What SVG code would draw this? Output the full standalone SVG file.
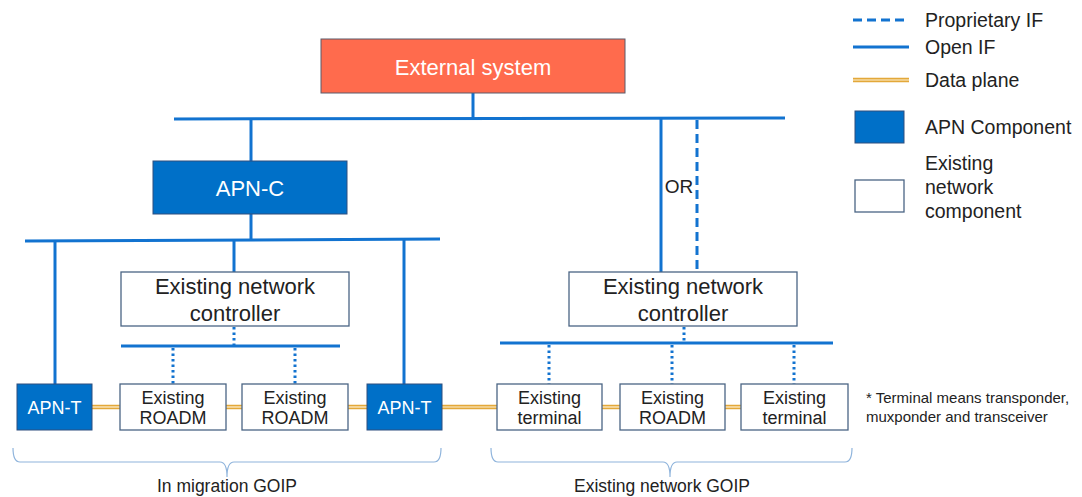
<svg xmlns="http://www.w3.org/2000/svg" width="1082" height="497" viewBox="0 0 1082 497">
<style>
.bg{fill:#ffffff}
.ext{fill:#FF6B4D;stroke:#5b5b6b;stroke-width:1}
.apn{fill:#0070C8;stroke:#2F4F7F;stroke-width:1}
.exi{fill:#ffffff;stroke:#4B6584;stroke-width:1.3}
.open{stroke:#1273D0;stroke-width:3;fill:none}
.prop{stroke:#1273D0;stroke-width:3;fill:none;stroke-dasharray:9 5}
.dot{stroke:#1273D0;stroke-width:3;fill:none;stroke-dasharray:2.5 3}
.dpo{stroke:#E3A83A;stroke-width:4.5;fill:none}
.dpi{stroke:#FFF3D8;stroke-width:1.2;fill:none}
.brace{stroke:#8FB4DC;stroke-width:1.2;fill:none}
text{font-family:"Liberation Sans",Arial,sans-serif}
.w{fill:#ffffff}
.k{fill:#222222}
</style>
<rect class="bg" x="0" y="0" width="1082" height="497"/>
<g id="connectors">
  <line class="open" x1="473" y1="93" x2="473" y2="119"/>
  <line class="open" x1="174" y1="119" x2="785" y2="118"/>
  <line class="open" x1="251" y1="119" x2="251" y2="161"/>
  <line class="open" x1="251" y1="214" x2="251" y2="240"/>
  <line class="open" x1="25" y1="241" x2="440" y2="239"/>
  <line class="open" x1="55" y1="241" x2="55" y2="384"/>
  <line class="open" x1="404" y1="240" x2="404" y2="384"/>
  <line class="open" x1="234" y1="240" x2="234" y2="272"/>
  <line class="dot" x1="234" y1="327" x2="234" y2="346"/>
  <line class="open" x1="121" y1="346" x2="340" y2="346"/>
  <line class="dot" x1="173" y1="348" x2="173" y2="384"/>
  <line class="dot" x1="295" y1="348" x2="295" y2="384"/>
  <line class="open" x1="661" y1="118" x2="661" y2="272"/>
  <line class="prop" x1="697" y1="120" x2="697" y2="272"/>
  <line class="dot" x1="684" y1="327" x2="684" y2="343"/>
  <line class="open" x1="500" y1="343" x2="833" y2="343"/>
  <line class="dot" x1="549" y1="345" x2="549" y2="384"/>
  <line class="dot" x1="672" y1="345" x2="672" y2="384"/>
  <line class="dot" x1="794" y1="345" x2="794" y2="384"/>
  <g>
    <line class="dpo" x1="92" y1="407" x2="120" y2="407"/><line class="dpi" x1="92" y1="407" x2="120" y2="407"/>
    <line class="dpo" x1="226" y1="407" x2="242" y2="407"/><line class="dpi" x1="226" y1="407" x2="242" y2="407"/>
    <line class="dpo" x1="348" y1="407" x2="367" y2="407"/><line class="dpi" x1="348" y1="407" x2="367" y2="407"/>
    <line class="dpo" x1="442" y1="407" x2="497" y2="407"/><line class="dpi" x1="442" y1="407" x2="497" y2="407"/>
    <line class="dpo" x1="602" y1="407" x2="620" y2="407"/><line class="dpi" x1="602" y1="407" x2="620" y2="407"/>
    <line class="dpo" x1="725" y1="407" x2="741" y2="407"/><line class="dpi" x1="725" y1="407" x2="741" y2="407"/>
  </g>
  <text class="k" x="679" y="193" font-size="19" text-anchor="middle">OR</text>
</g>
<g id="external-system">
  <rect class="ext" x="321" y="39" width="304" height="54"/>
  <text class="w" x="473" y="75" font-size="22" text-anchor="middle">External system</text>
</g>
<g id="apn-c">
  <rect class="apn" x="153" y="161" width="194" height="53"/>
  <text class="w" x="250" y="196" font-size="22" text-anchor="middle">APN-C</text>
</g>
<g id="controller-left">
  <rect class="exi" x="121" y="272" width="228" height="54"/>
  <text class="k" x="235" y="294" font-size="22" text-anchor="middle">Existing network</text>
  <text class="k" x="235" y="321" font-size="22" text-anchor="middle">controller</text>
</g>
<g id="controller-right">
  <rect class="exi" x="569" y="272" width="228" height="54"/>
  <text class="k" x="683" y="294" font-size="22" text-anchor="middle">Existing network</text>
  <text class="k" x="683" y="321" font-size="22" text-anchor="middle">controller</text>
</g>
<g id="apn-t-left">
  <rect class="apn" x="17" y="384" width="75" height="46"/>
  <text class="w" x="54.5" y="413.5" font-size="18" text-anchor="middle">APN-T</text>
</g>
<g id="roadm-1">
  <rect class="exi" x="120" y="384" width="106" height="46"/>
  <text class="k" x="173" y="403.5" font-size="18" text-anchor="middle">Existing</text>
  <text class="k" x="173" y="424" font-size="18" text-anchor="middle">ROADM</text>
</g>
<g id="roadm-2">
  <rect class="exi" x="242" y="384" width="106" height="46"/>
  <text class="k" x="295" y="403.5" font-size="18" text-anchor="middle">Existing</text>
  <text class="k" x="295" y="424" font-size="18" text-anchor="middle">ROADM</text>
</g>
<g id="apn-t-right">
  <rect class="apn" x="367" y="384" width="75" height="46"/>
  <text class="w" x="404.5" y="413.5" font-size="18" text-anchor="middle">APN-T</text>
</g>
<g id="terminal-1">
  <rect class="exi" x="497" y="384" width="105" height="46"/>
  <text class="k" x="549.5" y="403.5" font-size="18" text-anchor="middle">Existing</text>
  <text class="k" x="549.5" y="424" font-size="18" text-anchor="middle">terminal</text>
</g>
<g id="roadm-3">
  <rect class="exi" x="620" y="384" width="105" height="46"/>
  <text class="k" x="672.5" y="403.5" font-size="18" text-anchor="middle">Existing</text>
  <text class="k" x="672.5" y="424" font-size="18" text-anchor="middle">ROADM</text>
</g>
<g id="terminal-2">
  <rect class="exi" x="741" y="384" width="107" height="46"/>
  <text class="k" x="794.5" y="403.5" font-size="18" text-anchor="middle">Existing</text>
  <text class="k" x="794.5" y="424" font-size="18" text-anchor="middle">terminal</text>
</g>
<g id="note">
  <text class="k" x="866" y="403" font-size="15">* Terminal means transponder,</text>
  <text class="k" x="866" y="422" font-size="15">muxponder and transceiver</text>
</g>
<g id="brace-left">
  <path class="brace" d="M13,448 Q13,462 20,462 L220,462 Q227,462 227,477 Q227,462 234,462 L434,462 Q441,462 441,448"/>
  <text class="k" x="227" y="492" font-size="17.5" text-anchor="middle">In migration GOIP</text>
</g>
<g id="brace-right">
  <path class="brace" d="M491,448 Q491,462 498,462 L663,462 Q670,462 670,477 Q670,462 677,462 L845,462 Q852,462 852,448"/>
  <text class="k" x="662" y="492" font-size="17.5" text-anchor="middle">Existing network GOIP</text>
</g>
<g id="legend">
  <line class="prop" x1="853" y1="20" x2="909" y2="20" stroke-dasharray="8 4"/>
  <text class="k" x="925" y="27" font-size="19.5">Proprietary IF</text>
  <line class="open" x1="853" y1="47" x2="909" y2="47"/>
  <text class="k" x="925" y="54" font-size="19.5">Open IF</text>
  <line class="dpo" x1="853" y1="80" x2="909" y2="80"/>
  <line class="dpi" x1="853" y1="80" x2="909" y2="80"/>
  <text class="k" x="925" y="87" font-size="19.5">Data plane</text>
  <rect class="apn" x="855" y="111" width="49" height="32"/>
  <text class="k" x="925" y="134" font-size="19.5">APN Component</text>
  <rect class="exi" x="855" y="180" width="49" height="32"/>
  <text class="k" x="925" y="170" font-size="19.5">Existing</text>
  <text class="k" x="925" y="194" font-size="19.5">network</text>
  <text class="k" x="925" y="218" font-size="19.5">component</text>
</g>
</svg>
